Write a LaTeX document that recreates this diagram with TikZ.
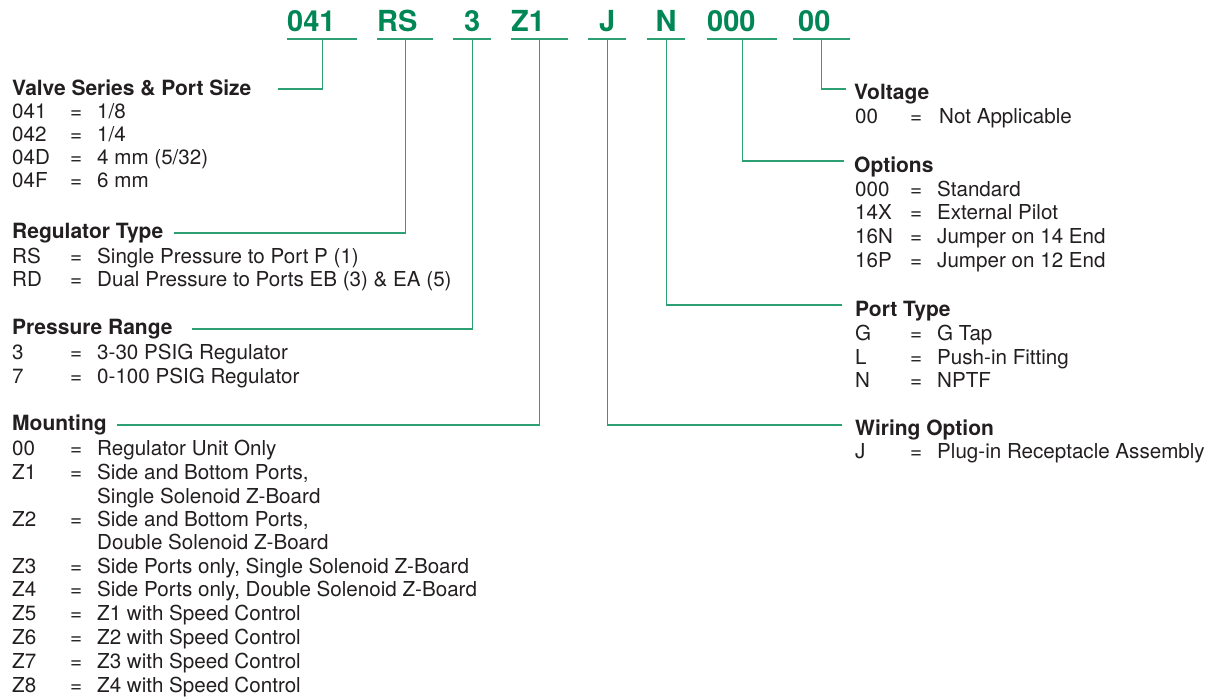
\documentclass[tikz,border=0pt]{standalone}
\usepackage{fontspec}
\setmainfont{TeX Gyre Heros}
\definecolor{codegreen}{RGB}{0,135,85}
\definecolor{wiregreen}{RGB}{45,160,115}
\definecolor{txtgray}{RGB}{35,31,32}
\tikzset{code/.style={font=\fontsize{29}{31}\selectfont\bfseries, text=codegreen, inner xsep=0pt, inner ysep=7pt, text depth=0pt, anchor=south west}}
\tikzset{uline/.style={draw=wiregreen, line width=2.5pt}}
\tikzset{wire/.style={draw=wiregreen, line width=1.2pt}}
\tikzset{head/.style={font=\fontsize{21}{24}\selectfont\bfseries, text=txtgray, inner sep=0pt, anchor=base west}}
\tikzset{entry/.style={font=\fontsize{20.6}{24}\selectfont, text=txtgray, inner sep=0pt, anchor=base west}}
\newcommand{\ent}[3][58pt]{\makebox[#1][l]{#2}\makebox[27pt][l]{=}#3}

\begin{document}
\begin{tikzpicture}[x=1pt,y=-1pt]
\useasboundingbox (0,0) rectangle (1209,698);

% part number
\node[code, text width=70pt, align=left] (c041) at (287,39) {041};
\node[code, text width=56pt, align=left] (cRS) at (377,39) {RS};
\node[code, text width=38pt, align=center] (c3) at (453,39) {3};
\node[code, text width=57pt, align=left] (cZ1) at (511,39) {Z1};
\node[code, text width=38pt, align=center] (cJ) at (588,39) {J};
\node[code, text width=38pt, align=center] (cN) at (647,39) {N};
\node[code, text width=70pt, align=left] (c000) at (707,39) {000};
\node[code, text width=57pt, align=left] (c00) at (793,39) {\hspace{5pt}00};
\foreach \c in {c041,cRS,c3,cZ1,cJ,cN,c000,c00}
  \draw[uline] (\c.south west) -- (\c.south east);

% left column
\node[head] (hValve) at (12,96) {Valve Series \& Port Size};
\node[entry] (v1) at (12,119) {\ent{041}{1/8}};
\node[entry] (v2) at (12,142) {\ent{042}{1/4}};
\node[entry] (v3) at (12,164) {\ent{04D}{4 mm (5/32)}};
\node[entry] (v4) at (12,187) {\ent{04F}{6 mm}};

\node[head] (hReg) at (12,238) {Regulator Type};
\node[entry] (r1) at (12,263) {\ent{RS}{Single Pressure to Port P (1)}};
\node[entry] (r2) at (12,286) {\ent{RD}{Dual Pressure to Ports EB (3) \& EA (5)}};

\node[head] (hPres) at (12,334) {Pressure Range};
\node[entry] (p1) at (12,359) {\ent{3}{3-30 PSIG Regulator}};
\node[entry] (p2) at (12,383) {\ent{7}{0-100 PSIG Regulator}};

\node[head] (hMount) at (12,430) {Mounting};
\node[entry] (m1) at (12,455) {\ent{00}{Regulator Unit Only}};
\node[entry] (m2) at (12,479) {\ent{Z1}{Side and Bottom Ports,}};
\node[entry] (m2b) at (97,503) {Single Solenoid Z-Board};
\node[entry] (m3) at (12,526) {\ent{Z2}{Side and Bottom Ports,}};
\node[entry] (m3b) at (97,549) {Double Solenoid Z-Board};
\node[entry] (m4) at (12,573) {\ent{Z3}{Side Ports only, Single Solenoid Z-Board}};
\node[entry] (m5) at (12,596) {\ent{Z4}{Side Ports only, Double Solenoid Z-Board}};
\node[entry] (m6) at (12,620) {\ent{Z5}{Z1 with Speed Control}};
\node[entry] (m7) at (12,644) {\ent{Z6}{Z2 with Speed Control}};
\node[entry] (m8) at (12,668) {\ent{Z7}{Z3 with Speed Control}};
\node[entry] (m9) at (12,692) {\ent{Z8}{Z4 with Speed Control}};

% right column
\node[head] (hVolt) at (854,100) {Voltage};
\node[entry] (t1) at (855,124) {\ent[55pt]{00}{\hspace{2pt}Not Applicable}};

\node[head] (hOpt) at (854,172) {Options};
\node[entry] (o1) at (855,196) {\ent[55pt]{000}{Standard}};
\node[entry] (o2) at (855,219) {\ent[55pt]{14X}{External Pilot}};
\node[entry] (o3) at (855,243) {\ent[55pt]{16N}{Jumper on 14 End}};
\node[entry] (o4) at (855,267) {\ent[55pt]{16P}{Jumper on 12 End}};

\node[head] (hPort) at (855,316) {Port Type};
\node[entry] (q1) at (855,340) {\ent[55pt]{G}{G Tap}};
\node[entry] (q2) at (855,364) {\ent[55pt]{L}{Push-in Fitting}};
\node[entry] (q3) at (855,387) {\ent[55pt]{N}{NPTF}};

\node[head] (hWire) at (855,435) {Wiring Option};
\node[entry] (w1) at (855,458) {\ent[55pt]{J}{Plug-in Receptacle Assembly}};

% leader lines
\coordinate (eValve) at (278,89);
\coordinate (eReg) at (174,233);
\coordinate (ePres) at (192,329);
\coordinate (eMount) at (117,425);
\coordinate (eVolt) at (846,89);
\coordinate (eOpt) at (844,161);
\coordinate (ePort) at (842,305);
\coordinate (eWire) at (842,425);
\draw[wire] (c041.south) |- (eValve);
\draw[wire] (cRS.south) |- (eReg);
\draw[wire] (c3.south) |- (ePres);
\draw[wire] (cZ1.south) |- (eMount);
\draw[wire] (c00.south) |- (eVolt);
\draw[wire] (c000.south) |- (eOpt);
\draw[wire] (cN.south) |- (ePort);
\draw[wire] (cJ.south) |- (eWire);

\end{tikzpicture}
\end{document}
